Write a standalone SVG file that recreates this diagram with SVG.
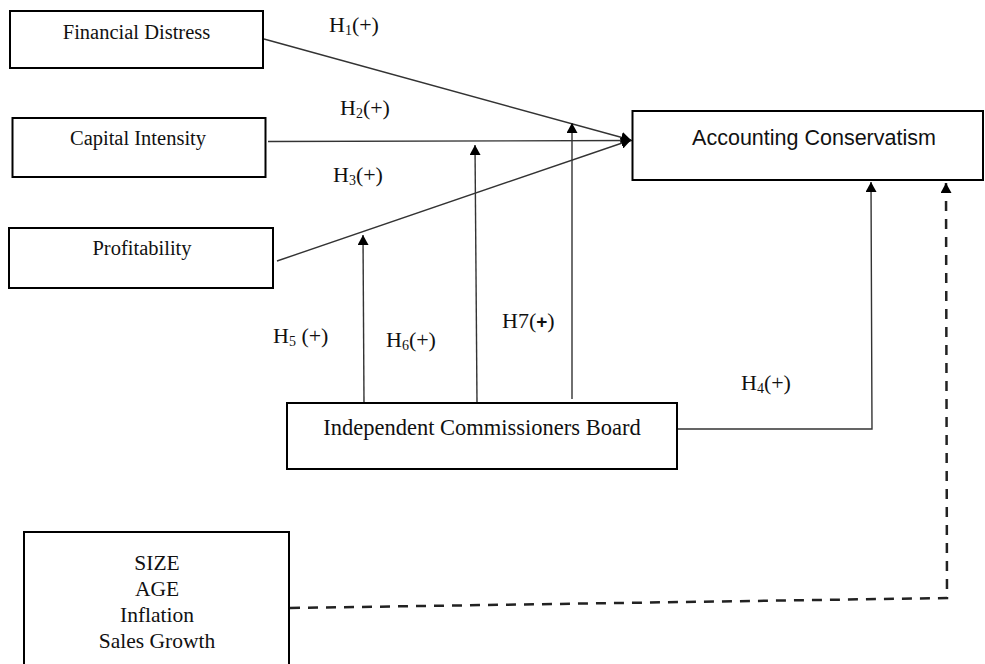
<svg xmlns="http://www.w3.org/2000/svg" width="985" height="664" viewBox="0 0 985 664">
<style>
.box{fill:#fff;stroke:#000;stroke-width:2}
.t{font-family:"Liberation Serif","Times New Roman",serif;fill:#111;text-anchor:middle}
.n{font-size:20.5px}
.ac{font-family:"Liberation Sans",Arial,sans-serif;font-size:21.5px;fill:#111;text-anchor:middle}
.h{font-family:"Liberation Serif","Times New Roman",serif;font-size:22px;fill:#111}
.sub{font-size:14px}
.c{fill:none;stroke:#333;stroke-width:1.4}
.d{fill:none;stroke:#222;stroke-width:2.5;stroke-dasharray:10 8}
</style>
<defs>
<marker id="ah" markerUnits="userSpaceOnUse" markerWidth="11" markerHeight="11" refX="10" refY="5.5" orient="auto">
<path d="M0,0 L10,5.5 L0,11 z" fill="#000"/>
</marker>
</defs>
<rect width="985" height="664" fill="#fff"/>
<g id="connectors">
<line class="c" x1="264" y1="39" x2="631" y2="140" marker-end="url(#ah)"/>
<line class="c" x1="268" y1="141.5" x2="632" y2="140.5" marker-end="url(#ah)"/>
<line class="c" x1="277" y1="261" x2="631" y2="140" marker-end="url(#ah)"/>
<line class="c" x1="364" y1="402" x2="363" y2="235" marker-end="url(#ah)"/>
<line class="c" x1="477" y1="402" x2="475" y2="145" marker-end="url(#ah)"/>
<line class="c" x1="572" y1="399" x2="572" y2="123" marker-end="url(#ah)"/>
<polyline class="c" points="677,429 872,429 871,182" marker-end="url(#ah)"/>
<polyline class="d" points="290,608 947,598 946,183" marker-end="url(#ah)"/>
</g>
<g id="financial-distress">
<rect class="box" x="10" y="11" width="253" height="57"/>
<text class="t n" x="136.5" y="39">Financial Distress</text>
</g>
<g id="capital-intensity">
<rect class="box" x="12.5" y="118" width="253" height="59"/>
<text class="t n" x="138" y="145">Capital Intensity</text>
</g>
<g id="profitability">
<rect class="box" x="9" y="228" width="264" height="60"/>
<text class="t n" x="142" y="255">Profitability</text>
</g>
<g id="accounting-conservatism">
<rect class="box" x="632.5" y="111" width="350.5" height="69"/>
<text class="ac" x="814" y="145">Accounting Conservatism</text>
</g>
<g id="independent-commissioners-board">
<rect class="box" x="287" y="403" width="390" height="66"/>
<text class="t" style="font-size:22.5px" x="482" y="435">Independent Commissioners Board</text>
</g>
<g id="controls">
<rect class="box" x="24" y="532" width="265" height="145"/>
<text class="t" style="font-size:21.5px" x="157" y="570">SIZE</text>
<text class="t" style="font-size:21.5px" x="157" y="596">AGE</text>
<text class="t" style="font-size:21.5px" x="157" y="622">Inflation</text>
<text class="t" style="font-size:21.5px" x="157" y="648">Sales Growth</text>
</g>
<g id="labels">
<text class="h" x="329" y="32">H<tspan class="sub" dy="3">1</tspan><tspan dy="-3">(+)</tspan></text>
<text class="h" x="340" y="115">H<tspan class="sub" dy="3">2</tspan><tspan dy="-3">(+)</tspan></text>
<text class="h" x="333" y="182">H<tspan class="sub" dy="3">3</tspan><tspan dy="-3">(+)</tspan></text>
<text class="h" x="273" y="343">H<tspan class="sub" dy="3">5</tspan><tspan dy="-3"> (+)</tspan></text>
<text class="h" x="386" y="347">H<tspan class="sub" dy="3">6</tspan><tspan dy="-3">(+)</tspan></text>
<text class="h" x="502" y="328">H7(<tspan font-family="Liberation Sans, Arial, sans-serif" font-weight="bold" font-size="19">+</tspan>)</text>
<text class="h" x="741" y="390">H<tspan class="sub" dy="3">4</tspan><tspan dy="-3">(+)</tspan></text>
</g>
</svg>
